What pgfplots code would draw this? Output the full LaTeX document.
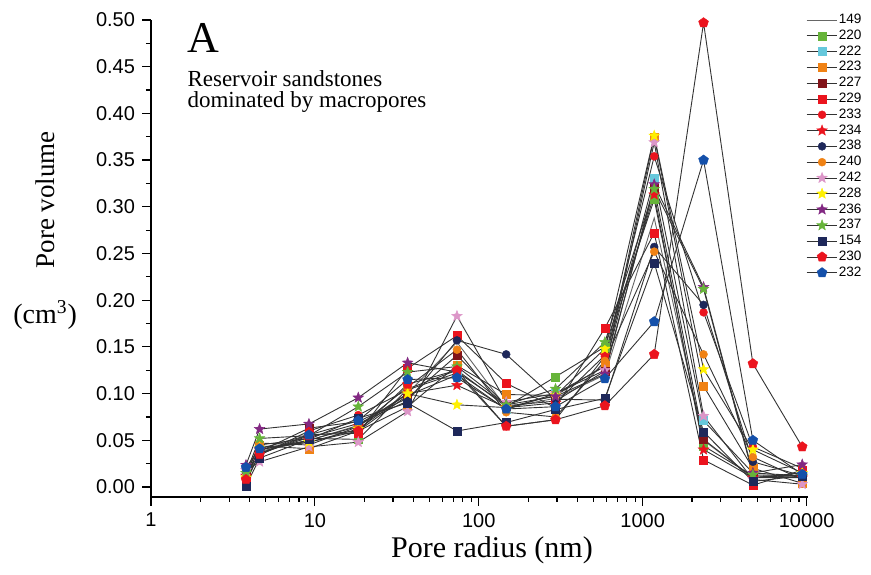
\documentclass[border=0pt]{standalone}
\usepackage{pgfplots}
\usepackage{pgfplotstable}
\pgfplotsset{compat=1.18}
\usetikzlibrary{plotmarks}
\usepackage{fontspec}
\setmainfont{Liberation Serif}
\newfontfamily\arial{Liberation Sans}

\definecolor{cgreen}{HTML}{67B43A}
\definecolor{cltblue}{HTML}{66C8DC}
\definecolor{corange}{HTML}{F08214}
\definecolor{cmaroon}{HTML}{821419}
\definecolor{cred}{HTML}{EB141E}
\definecolor{cnavy}{HTML}{1E285A}
\definecolor{cpink}{HTML}{DC96C8}
\definecolor{cyellow}{HTML}{FFF000}
\definecolor{cpurple}{HTML}{822882}
\definecolor{cblue}{HTML}{1450AA}

% filled five-pointed star
\pgfdeclareplotmark{fstar}{%
  \pgfpathmoveto{\pgfpointpolar{90}{1.4\pgfplotmarksize}}%
  \pgfpathlineto{\pgfpointpolar{126}{0.6\pgfplotmarksize}}%
  \pgfpathlineto{\pgfpointpolar{162}{1.4\pgfplotmarksize}}%
  \pgfpathlineto{\pgfpointpolar{198}{0.6\pgfplotmarksize}}%
  \pgfpathlineto{\pgfpointpolar{234}{1.4\pgfplotmarksize}}%
  \pgfpathlineto{\pgfpointpolar{270}{0.6\pgfplotmarksize}}%
  \pgfpathlineto{\pgfpointpolar{306}{1.4\pgfplotmarksize}}%
  \pgfpathlineto{\pgfpointpolar{342}{0.6\pgfplotmarksize}}%
  \pgfpathlineto{\pgfpointpolar{18}{1.4\pgfplotmarksize}}%
  \pgfpathlineto{\pgfpointpolar{54}{0.6\pgfplotmarksize}}%
  \pgfpathclose
  \pgfusepathqfillstroke}

\pgfplotsset{
  pv/.style={color=black!80, line width=0.45pt, mark size=2pt,
    mark options={solid, draw=#1, fill=#1, line width=0.2pt}},
}

% pore radius (nm) and pore volume (cm^3) for each sample
\pgfplotstableread{
r     v149  v220  v222  v223  v227  v229   v233  v234  v238  v240   v242  v228  v236   v237  v154   v230  v232
3.8   0.012 0.015 0.010 0.008 0.012 0.005  0.010 0.012 0.015 0.012  0.018 0.010 0.0235 0.015 0.001  0.008 0.021
4.6   0.038 0.045 0.040 0.044 0.038 0.036  0.034 0.040 0.036 0.047  0.027 0.042 0.062  0.052 0.031  0.035 0.041
9.2   0.050 0.052 0.048 0.041 0.063 0.056  0.060 0.050 0.053 0.045  0.043 0.048 0.0675 0.055 0.051  0.055 0.0557
18.4  0.066 0.051 0.060 0.060 0.070 0.0575 0.077 0.065 0.068 0.0646 0.048 0.062 0.0956 0.086 0.0735 0.060 0.071
36.8  0.100 0.105 0.098 0.086 0.095 0.127  0.104 0.100 0.092 0.107  0.081 0.100 0.133  0.123 0.090  0.110 0.115
73.6  0.155 0.125 0.120 0.130 0.141 0.162  0.122 0.109 0.157 0.147  0.183 0.088 0.123  0.129 0.060  0.125 0.117
147   0.085 0.086 0.083 0.099 0.087 0.111  0.065 0.085 0.142 0.080  0.091 0.085 0.088  0.088 0.069  0.065 0.0835
294   0.095 0.118 0.100 0.098 0.092 0.085  0.072 0.090 0.094 0.075  0.100 0.098 0.097  0.105 0.083  0.072 0.086
588   0.120 0.150 0.129 0.130 0.124 0.170  0.140 0.141 0.093 0.135  0.125 0.148 0.121  0.155 0.095  0.087 0.116
1176  0.288 0.308 0.331 0.375 0.320 0.272  0.354 0.313 0.257 0.252  0.369 0.376 0.324  0.319 0.240  0.142 0.177
2352  0.050 0.044 0.071 0.108 0.051 0.029  0.187 0.040 0.195 0.142  0.076 0.126 0.214  0.212 0.059  0.497 0.350
4704  0.010 0.012 0.015 0.020 0.010 0.002  0.043 0.010 0.027 0.032  0.008 0.040 0.015  0.013 0.006  0.132 0.050
9408  0.012 0.010 0.012 0.004 0.015 0.018  0.020 0.010 0.012 0.008  0.003 0.015 0.024  0.012 0.012  0.043 0.0136
}\poredata

\begin{document}
\begin{tikzpicture}
\begin{axis}[
  scale only axis,
  width=328.5pt, height=238.5pt,
  xmode=log, xmin=1, xmax=10200,
  ymin=-0.0107, ymax=0.5,
  axis x line*=bottom, axis y line*=left,
  axis line style={line width=0.7pt},
  tick align=outside,
  tick style={black, line width=0.6pt},
  major tick length=4.5pt, minor tick length=2.5pt,
  xtick={1,10,100,1000,10000},
  xticklabels={1,10,100,1000,10000},
  minor xtick={2,3,4,5,6,7,8,9,20,30,40,50,60,70,80,90,200,300,400,500,600,700,800,900,2000,3000,4000,5000,6000,7000,8000,9000},
  ytick={0,0.05,0.1,0.15,0.2,0.25,0.3,0.35,0.4,0.45,0.5},
  minor y tick num=1,
  yticklabel style={/pgf/number format/fixed, /pgf/number format/fixed zerofill,
    /pgf/number format/precision=2},
  /pgf/number format/assume math mode=true,
  tick label style={font=\arial\fontsize{10}{11}\selectfont},
  clip=false,
  legend style={at={(1.0928,1.025)}, anchor=north east, draw=none, fill=none,
    font=\arial\fontsize{6.8}{7}\selectfont, row sep=0.4pt,
    nodes={inner sep=0.5pt, text height=5pt, text depth=1.5pt}},
  legend cell align=left,
  legend image code/.code={\draw[mark repeat=2,mark phase=2,#1]
    plot coordinates {(0cm,0cm) (0.27cm,0cm) (0.54cm,0cm)};},
]
\addplot[color=black!60, line width=0.45pt, mark=none] table[x=r, y=v149] {\poredata};
\addlegendentry{149}
\addplot[pv=cgreen, mark=square*] table[x=r, y=v220] {\poredata};
\addlegendentry{220}
\addplot[pv=cltblue, mark=square*] table[x=r, y=v222] {\poredata};
\addlegendentry{222}
\addplot[pv=corange, mark=square*] table[x=r, y=v223] {\poredata};
\addlegendentry{223}
\addplot[pv=cmaroon, mark=square*] table[x=r, y=v227] {\poredata};
\addlegendentry{227}
\addplot[pv=cred, mark=square*] table[x=r, y=v229] {\poredata};
\addlegendentry{229}
\addplot[pv=cred, mark=*] table[x=r, y=v233] {\poredata};
\addlegendentry{233}
\addplot[pv=cred, mark=fstar] table[x=r, y=v234] {\poredata};
\addlegendentry{234}
\addplot[pv=cnavy, mark=*] table[x=r, y=v238] {\poredata};
\addlegendentry{238}
\addplot[pv=corange, mark=*] table[x=r, y=v240] {\poredata};
\addlegendentry{240}
\addplot[pv=cpink, mark=fstar] table[x=r, y=v242] {\poredata};
\addlegendentry{242}
\addplot[pv=cyellow, mark=fstar] table[x=r, y=v228] {\poredata};
\addlegendentry{228}
\addplot[pv=cpurple, mark=fstar] table[x=r, y=v236] {\poredata};
\addlegendentry{236}
\addplot[pv=cgreen, mark=fstar] table[x=r, y=v237] {\poredata};
\addlegendentry{237}
\addplot[pv=cnavy, mark=square*] table[x=r, y=v154] {\poredata};
\addlegendentry{154}
\addplot[pv=cred, mark=pentagon*, mark size=2.6pt] table[x=r, y=v230] {\poredata};
\addlegendentry{230}
\addplot[pv=cblue, mark=pentagon*, mark size=2.6pt] table[x=r, y=v232] {\poredata};
\addlegendentry{232}

\node[anchor=north west, inner sep=0, font=\fontsize{22}{22}\selectfont]
  at (axis description cs:0.055,0.993) {A};
\node[anchor=north west, inner sep=0, align=left, font=\fontsize{11.5}{10.5}\selectfont]
  at (axis description cs:0.055,0.895) {Reservoir sandstones\\dominated by macropores};
\node[rotate=90, font=\fontsize{13.5}{13.5}\selectfont]
  at (axis description cs:-0.161,0.623) {Pore volume};
\node[font=\fontsize{14}{14}\selectfont]
  at (axis description cs:-0.161,0.382) {(cm\textsuperscript{3})};
\node[font=\fontsize{15}{15}\selectfont]
  at (axis description cs:0.519,-0.111) {Pore radius (nm)};
\path (axis description cs:-0.2298,-0.1635) rectangle (axis description cs:1.0959,1.0419);
\end{axis}
\end{tikzpicture}
\end{document}
